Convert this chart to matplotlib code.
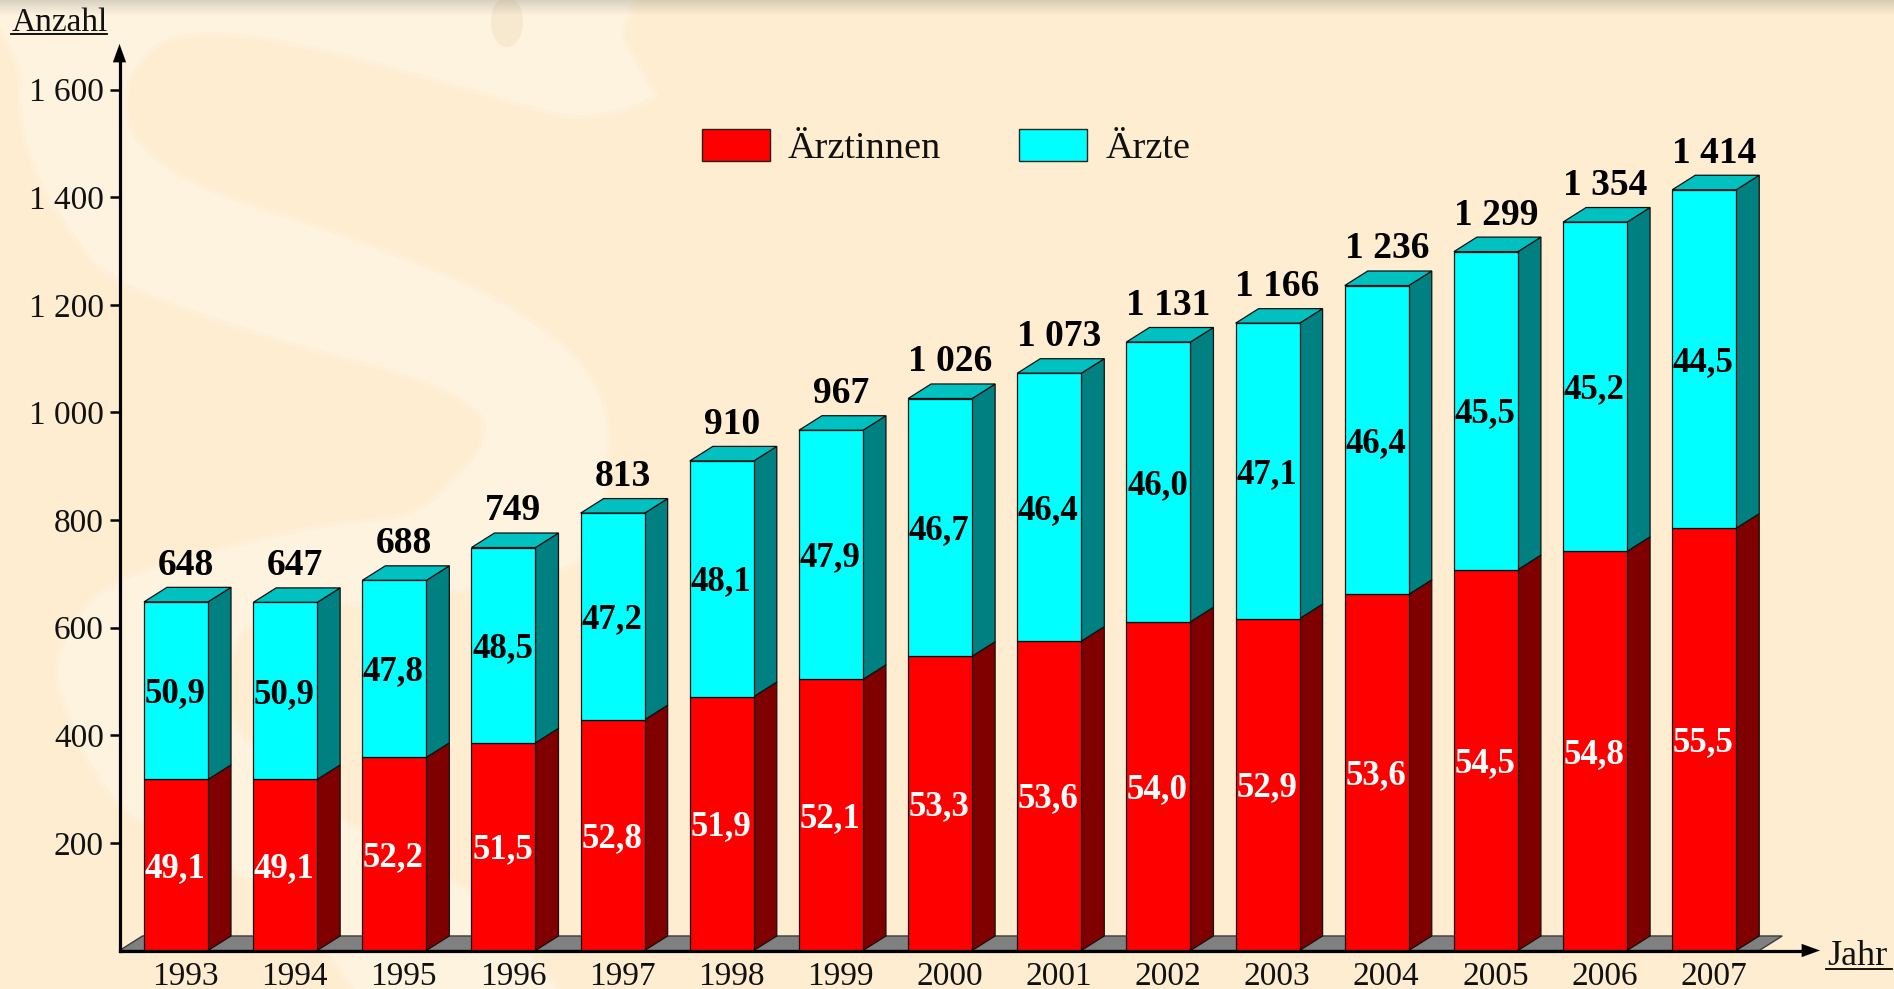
#stacked 3d look bars: Aerztinnen / Aerzte per year
import numpy as np
import matplotlib
matplotlib.use('Agg')
import matplotlib.pyplot as plt
from matplotlib.path import Path
from matplotlib.patches import PathPatch, Polygon, Patch, Ellipse

plt.rcParams['font.family'] = ['Liberation Serif', 'DejaVu Serif']

#data
years = [1993, 1994, 1995, 1996, 1997, 1998, 1999, 2000, 2001, 2002, 2003, 2004, 2005, 2006, 2007]
totals = [648, 647, 688, 749, 813, 910, 967, 1026, 1073, 1131, 1166, 1236, 1299, 1354, 1414]
aerztinnen = [318, 318, 359, 386, 429, 472, 504, 547, 575, 611, 617, 662, 708, 742, 785]
pct_aerztinnen = ['49,1', '49,1', '52,2', '51,5', '52,8', '51,9', '52,1', '53,3', '53,6', '54,0', '52,9', '53,6', '54,5', '54,8', '55,5']
pct_aerzte = ['50,9', '50,9', '47,8', '48,5', '47,2', '48,1', '47,9', '46,7', '46,4', '46,0', '47,1', '46,4', '45,5', '45,2', '44,5']
total_labels = ['648', '647', '688', '749', '813', '910', '967', '1 026', '1 073', '1 131', '1 166', '1 236', '1 299', '1 354', '1 414']
y_ticks = [200, 400, 600, 800, 1000, 1200, 1400, 1600]
y_tick_labels = ['200', '400', '600', '800', '1 000', '1 200', '1 400', '1 600']

W, H = 1894, 989
bg_col = '#FEEDD0'
light_col = '#FEF3DE'

fig = plt.figure(figsize=(W/100, H/100), dpi=100, facecolor=bg_col)

#background axes in pixel coords (paper texture, axis arrows, axis titles)
bg = fig.add_axes([0, 0, 1, 1], zorder=0)
bg.set_xlim(0, W)
bg.set_ylim(H, 0)
bg.axis('off')

def closed_curve(pts):
    #catmull-rom through the points, as bezier segments
    pts = np.array(pts, float)
    n = len(pts)
    verts = [pts[0]]
    codes = [Path.MOVETO]
    for i in range(n):
        p0, p1, p2, p3 = pts[i-1], pts[i], pts[(i+1) % n], pts[(i+2) % n]
        verts += [p1+(p2-p0)/6, p2-(p3-p1)/6, p2]
        codes += [Path.CURVE4]*3
    return Path(verts, codes)

snake = [(40, -40), (581, -40), (625, 40), (648, 83), (655, 97), (612, 113), (561, 115), (459, 87), (332, 53),
         (230, 35), (163, 43), (128, 87), (138, 140), (204, 187), (357, 240), (485, 293), (571, 353), (607, 417),
         (600, 520), (560, 570), (400, 600), (270, 615), (232, 660), (240, 730), (330, 810), (480, 900), (570, 1030),
         (400, 1030), (280, 900), (128, 813), (70, 720), (60, 650), (122, 580), (300, 530), (408, 513), (459, 473),
         (482, 440), (474, 410), (408, 377), (255, 333), (122, 283), (71, 233), (31, 160), (20, 83)]
bg.add_patch(PathPatch(closed_curve(snake), fc=light_col, ec='#FEF0D8', lw=3))
bg.add_patch(Ellipse((507, 22), 32, 50, fc='#F6E9CF', ec='none'))

#grey shade along the top edge
shade = np.zeros((16, 1, 4))
shade[:, :, :3] = 0.35
shade[:, 0, 3] = np.linspace(0.22, 0, 16)
bg.imshow(shade, extent=(0, W, 16, 0), aspect='auto', zorder=5)
bg.set_xlim(0, W)
bg.set_ylim(H, 0)

#axis arrows
bg.annotate('', xy=(119.5, 44), xytext=(119.5, 70), annotation_clip=False,
            arrowprops=dict(arrowstyle='-|>,head_length=13,head_width=4.7', mutation_scale=1, lw=0.1, color='k', shrinkA=0, shrinkB=0))
bg.annotate('', xy=(1820, 950.5), xytext=(1795, 950.5), annotation_clip=False,
            arrowprops=dict(arrowstyle='-|>,head_length=13,head_width=4.7', mutation_scale=1, lw=0.1, color='k', shrinkA=0, shrinkB=0))

#axis titles with underline
bg.text(12, 30.7, 'Anzahl', fontsize=24, color='#111111', ha='left', va='baseline')
bg.plot([11, 107], [33.5, 33.5], color='k', lw=1.3)
bg.text(1827, 965, 'Jahr', fontsize=26, color='#111111', ha='left', va='baseline')
bg.plot([1826, 1892], [969, 969], color='k', lw=1.3)

#main axes, placed so the scales line up with the picture
px_per_year = 109.16
px_per_count = 0.538
x0_px = 176.0
left_px, right_px, top_px, base_px = 119.5, 1808.0, 56.0, 950.5
ax = fig.add_axes([left_px/W, (H-base_px)/H, (right_px-left_px)/W, (base_px-top_px)/H], zorder=1)
ax.patch.set_visible(False)
ax.set_xlim(1993+(left_px-x0_px)/px_per_year, 1993+(right_px-x0_px)/px_per_year)
ax.set_ylim(0, (base_px-top_px)/px_per_count)

bar_w = 64/px_per_year
dx = 23/px_per_year
dy = 27.0

#floor
floor_l = ax.get_xlim()[0]
floor_r = 2007+bar_w/2+dx
ax.add_patch(Polygon([(floor_l, 0), (floor_l+dx, dy), (floor_r+dx, dy), (floor_r, 0)], fc='#808080', ec='#3c3c3c', lw=1, zorder=1))

for i, yr in enumerate(years):
    l = yr-bar_w/2
    r = yr+bar_w/2
    a = aerztinnen[i]
    t = totals[i]
    z = 2+i*0.01
    ax.bar(yr, a, width=bar_w, color='#FF0000', edgecolor='#111111', lw=0.9, zorder=z+0.002)
    ax.bar(yr, t-a, bottom=a, width=bar_w, color='#00FFFF', edgecolor='#111111', lw=0.9, zorder=z+0.002)
    ax.add_patch(Polygon([(r, 0), (r+dx, dy), (r+dx, a+dy), (r, a)], fc='#800000', ec='#111111', lw=0.9, zorder=z))
    ax.add_patch(Polygon([(r, a), (r+dx, a+dy), (r+dx, t+dy), (r, t)], fc='#008080', ec='#111111', lw=0.9, zorder=z))
    ax.add_patch(Polygon([(l, t), (l+dx, t+dy), (r+dx, t+dy), (r, t)], fc='#00C0C0', ec='#111111', lw=0.9, zorder=z))
    xc = yr-1/px_per_year
    ax.text(xc, a/2-6, pct_aerztinnen[i], color='white', fontsize=25, fontweight='bold', ha='center', va='center', zorder=4)
    ax.text(xc, a+(t-a)/2-6, pct_aerzte[i], color='black', fontsize=25, fontweight='bold', ha='center', va='center', zorder=4)
    ax.text(yr+10/px_per_year, t+68, total_labels[i], color='black', fontsize=27, fontweight='bold', ha='center', va='center', zorder=4)

#axes furniture
for s in ['top', 'right']:
    ax.spines[s].set_visible(False)
for s in ['left', 'bottom']:
    ax.spines[s].set_linewidth(2.3)
    ax.spines[s].set_zorder(6)
ax.set_yticks(y_ticks)
ax.set_yticklabels(y_tick_labels, fontsize=24, color='#111111')
ax.tick_params(axis='y', length=7.2, width=1.8, pad=4)
ax.set_xticks(np.array(years)+9.5/px_per_year)
ax.set_xticklabels(years, fontsize=24, color='#111111')
ax.tick_params(axis='x', length=0, pad=8)

#legend
handles = [Patch(fc='#FF0000', ec='#222222', lw=1, label='Ärztinnen'), Patch(fc='#00FFFF', ec='#222222', lw=1, label='Ärzte')]
leg = ax.legend(handles=handles, ncols=2, frameon=False, fontsize=27.5, handlelength=1.78, handleheight=0.89,
                handletextpad=0.47, columnspacing=2.04, borderpad=0, borderaxespad=0,
                loc='lower left', bbox_to_anchor=((702-left_px)/(right_px-left_px), (base_px-166)/(base_px-top_px)))
for txt in leg.get_texts():
    txt.set_color('#111111')

fig.savefig('out.png', dpi=100, facecolor=bg_col)
